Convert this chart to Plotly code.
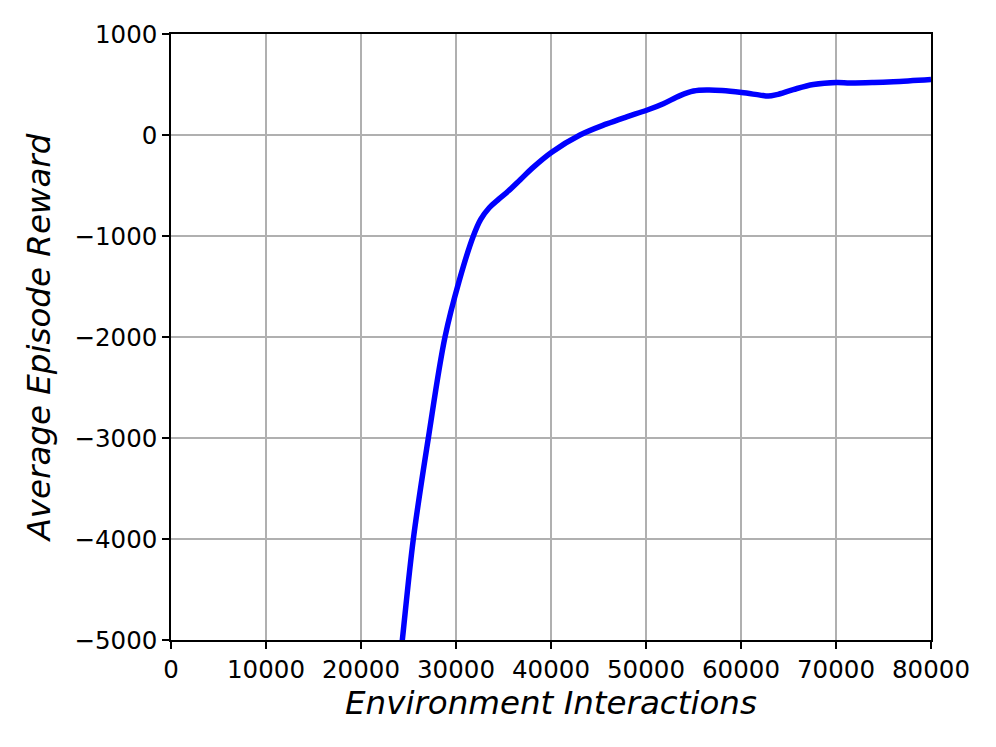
import plotly.graph_objects as go

# Data
steps = [24000, 24351, 25509, 27088, 28842, 30316, 31825, 32600, 33500, 34500,
         35509, 36737, 38000, 40070, 43053, 45860, 47965, 50070,
         51825, 53579, 55000, 56500, 58000, 60070, 62000, 62877, 63754, 65500,
         67614, 70070, 71474, 74000, 76035, 80000]
rewards = [-5300, -5000, -4000, -3000, -2000, -1450, -1000, -835, -720, -635,
           -555, -445, -330, -170, 0, 110, 180, 245,
           310, 390, 435, 445, 440, 420, 395, 385, 400, 450,
           500, 520, 515, 520, 528, 550]

x_ticks = [0, 10000, 20000, 30000, 40000, 50000, 60000, 70000, 80000]
x_ticklabels = ["0", "10000", "20000", "30000", "40000", "50000", "60000", "70000", "80000"]
y_ticks = [1000, 0, -1000, -2000, -3000, -4000, -5000]
y_ticklabels = ["1000", "0", "\u22121000", "\u22122000", "\u22123000", "\u22124000", "\u22125000"]

font_family = "DejaVu Sans"

fig = go.Figure()
fig.add_trace(go.Scatter(
    x=steps, y=rewards, mode="lines",
    line=dict(color="#0000ff", width=5.5, shape="spline", smoothing=1.0),
    showlegend=False, hoverinfo="skip",
))

axis_common = dict(
    showline=True, linecolor="black", linewidth=1.5, mirror=True,
    showgrid=True, gridcolor="#b0b0b0", gridwidth=1.5,
    ticks="outside", ticklen=7, tickwidth=1.5, tickcolor="black",
    zeroline=False,
    tickfont=dict(family=font_family, size=24.5, color="black"),
)

fig.update_xaxes(
    range=[0, 80000], tickvals=x_ticks, ticktext=x_ticklabels,
    title=dict(text="<i>Environment Interactions</i>",
               font=dict(family=font_family, size=32.5, color="black"), standoff=6),
    **axis_common,
)
fig.update_yaxes(
    range=[-5000, 1000], tickvals=y_ticks, ticktext=y_ticklabels,
    title=dict(text="<i>Average Episode Reward</i>",
               font=dict(family=font_family, size=32.5, color="black"), standoff=14),
    **axis_common,
)

fig.update_layout(
    width=988, height=739,
    margin=dict(l=163, r=65, t=26, b=107),
    paper_bgcolor="white", plot_bgcolor="white",
)

fig.write_html("out.html")
